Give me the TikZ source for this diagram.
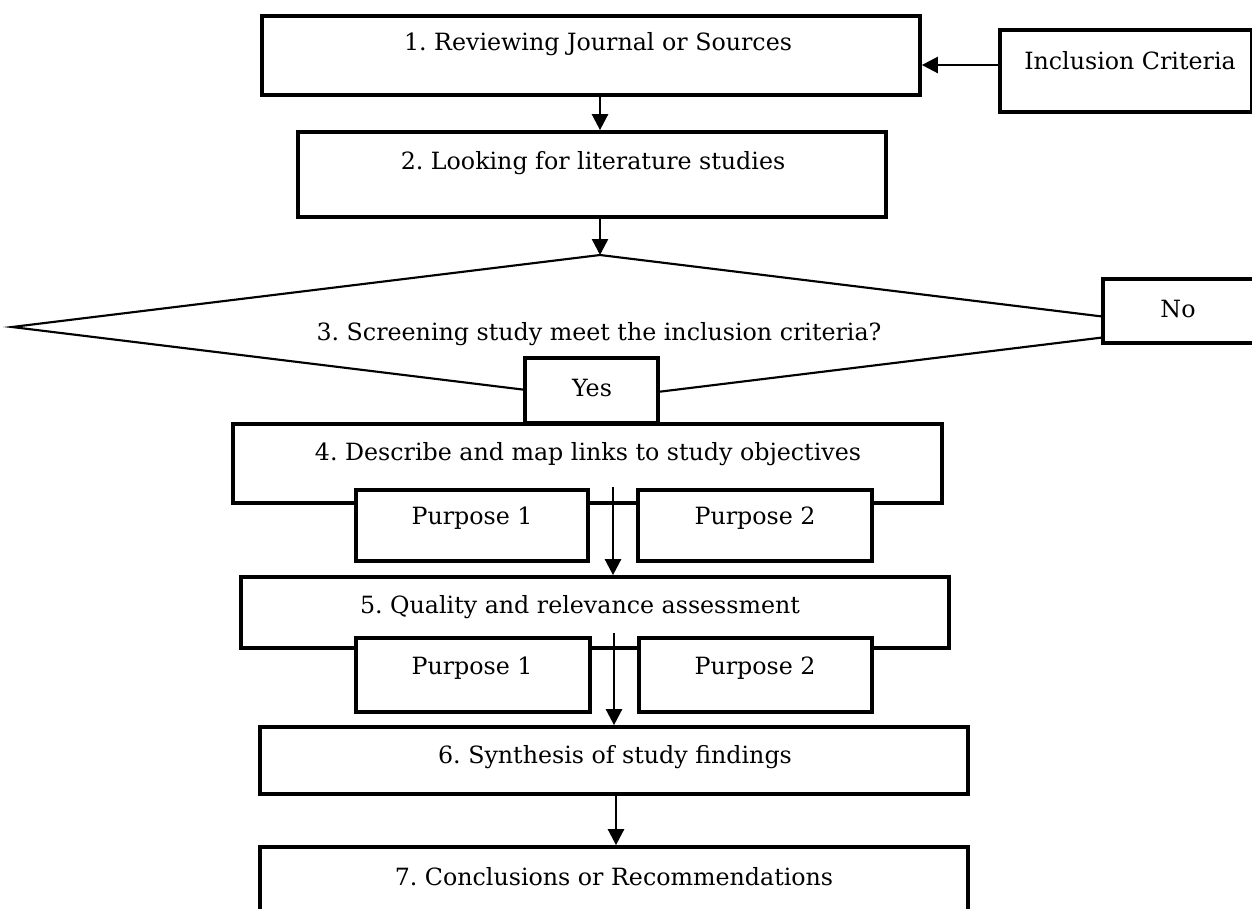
\documentclass[tikz,border=0pt]{standalone}
\usepackage{fontspec}
\setmainfont{DejaVu Serif}
\frenchspacing
\usetikzlibrary{arrows.meta,fit,calc}
\begin{document}
\begin{tikzpicture}[x=0.75pt,y=-0.75pt,
  box/.style={draw,line width=2.8pt,fill=white,inner sep=0pt},
  txt/.style={font=\fontsize{17.8}{21}\selectfont,inner sep=0pt},
  arr/.style={line width=1.9pt,-{Triangle[length=12pt,width=12pt]}},
  dline/.style={line width=1.6pt,line join=miter}]
\useasboundingbox (0,0) rectangle (1252,908);
\clip (0,0) rectangle (1252,908);
% step 1 and inclusion criteria
\node[box,fit={(262,16)(920,95)}] (b1) {};
\node[txt] (t1) at (598,44) {1. Reviewing Journal or Sources};
\node[box,fit={(1000,30)(1252,112)}] (inc) {};
\node[txt] (tinc) at (1130,61) {Inclusion Criteria};
\draw[arr] ([yshift=4.5pt]inc.west) -- ([yshift=4.5pt]inc.west -| b1.east);
% step 2
\node[box,fit={(298,132)(886,217)}] (b2) {};
\node[txt] (t2) at (593,163) {2. Looking for literature studies};
% decision
\coordinate (dt) at (600,255);
\coordinate (dl) at (12,327);
\coordinate (dr) at (1188,327);
\coordinate (db) at (600,399);
\draw[dline] (dl) -- (dt) -- (dr) -- (db) -- cycle;
\node[txt] (t3) at (599,334) {3. Screening study meet the inclusion criteria?};
\node[box,fit={(1103,279)(1256,343)}] (no) {};
\node[txt] (tno) at (1178,309) {No};
\node[box,fit={(525,358)(658,423)}] (yes) {};
\node[txt] (tyes) at (592,388) {Yes};
\draw[arr] (dt |- b1.south) -- (dt |- b2.north);
\draw[arr] (dt |- b2.south) -- (dt);
% step 4
\node[box,fit={(233,424)(942,503)}] (b4) {};
\node[txt] (t4) at (588,454) {4. Describe and map links to study objectives};
\node[box,fit={(356,490)(588,561)}] (p11) {};
\node[txt] (tp11) at (472,518) {Purpose 1};
\node[box,fit={(638,490)(872,561)}] (p12) {};
\node[txt] (tp12) at (755,518) {Purpose 2};
% step 5
\node[box,fit={(241,577)(949,648)}] (b5) {};
\node[txt] (t5) at (580,607) {5. Quality and relevance assessment};
\coordinate (a4) at (613,487);
\draw[arr] (a4) -- (a4 |- b5.north);
\node[box,fit={(356,638)(590,712)}] (p21) {};
\node[txt] (tp21) at (472,668) {Purpose 1};
\node[box,fit={(639,638)(872,712)}] (p22) {};
\node[txt] (tp22) at (755,668) {Purpose 2};
% step 6
\node[box,fit={(260,727)(968,794)}] (b6) {};
\node[txt] (t6) at (615,757) {6. Synthesis of study findings};
\coordinate (a5) at (614,633);
\draw[arr] (a5) -- (a5 |- b6.north);
% step 7
\node[box,fit={(260,847)(968,940)}] (b7) {};
\node[txt] (t7) at (614,877) {7. Conclusions or Recommendations};
\coordinate (a6) at (616,794);
\draw[arr] (a6) -- (a6 |- b7.north);
\end{tikzpicture}
\end{document}
